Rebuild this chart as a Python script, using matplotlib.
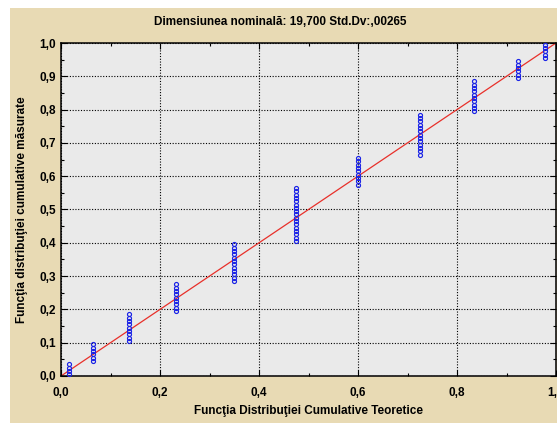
import numpy as np
import matplotlib.pyplot as plt
from matplotlib.patches import Rectangle
from matplotlib.ticker import MultipleLocator, FuncFormatter

plt.rcParams["font.family"] = ["Liberation Sans", "DejaVu Sans"]

# theoretical CDF of each measured value, and how many parts had that value
theoretical = [0.016, 0.065, 0.137, 0.232, 0.350, 0.475, 0.600, 0.725, 0.834, 0.923, 0.978]
counts = [4, 6, 9, 9, 12, 17, 9, 13, 10, 6, 5]

title = "Dimensiunea nominală: 19,700 Std.Dv:,00265"
xlabel = "Funcţia Distribuţiei Cumulative Teoretice"
ylabel = "Funcţia distribuţiei cumulative măsurate"

# empirical CDF ranks for the tied values
n = sum(counts)
xs, ys = [], []
rank = 0
for t, c in zip(theoretical, counts):
    for i in range(c):
        rank += 1
        xs.append(t)
        ys.append((rank - 0.5) / n)

fig = plt.figure(figsize=(5.57, 4.23), dpi=100)
fig.patch.set_facecolor("white")
fig.patches.append(Rectangle((10 / 557, 0), 1, 1 - 8 / 423, transform=fig.transFigure,
                             facecolor="#E8DAB4", edgecolor="none", zorder=-5))

ax = fig.add_axes([61 / 557, 1 - 376 / 423, 495 / 557, 333 / 423])
ax.set_facecolor("#EAEAEA")
ax.set_xlim(0, 1)
ax.set_ylim(0, 1)

ax.plot([0, 1], [0, 1], color="#E8302A", lw=0.9, zorder=2)
ax.plot(xs, ys, linestyle="none", marker="o", markersize=2.9, markerfacecolor="none",
        markeredgecolor="#1A22E6", markeredgewidth=0.85, zorder=3, clip_on=False)

ax.xaxis.set_major_locator(MultipleLocator(0.2))
ax.xaxis.set_minor_locator(MultipleLocator(0.1))
ax.yaxis.set_major_locator(MultipleLocator(0.1))
ax.yaxis.set_minor_locator(MultipleLocator(0.05))
fmt = FuncFormatter(lambda v, p: f"{v:.1f}".replace(".", ","))
ax.xaxis.set_major_formatter(fmt)
ax.yaxis.set_major_formatter(fmt)
ax.tick_params(which="both", direction="in", top=True, right=True, labelsize=8.5)
ax.tick_params(which="major", length=4, width=0.8)
ax.tick_params(which="minor", length=2.5, width=0.8)
ax.tick_params(axis="x", pad=8)
for lab in ax.get_xticklabels() + ax.get_yticklabels():
    lab.set_fontweight("bold")

ax.grid(True, which="major", color="black", linestyle=(0, (1, 1.5)), linewidth=0.8)
for s in ax.spines.values():
    s.set_linewidth(1.1)

fig.text(280 / 557, 1 - 22 / 423, title, ha="center", va="center",
         fontsize=8.5, fontweight="bold")
fig.text(308 / 557, 1 - 411 / 423, xlabel, ha="center", va="center",
         fontsize=8.5, fontweight="bold")
fig.text(22 / 557, 1 - 210 / 423, ylabel, ha="center", va="center",
         fontsize=8.5, fontweight="bold", rotation=90)

fig.savefig("out.png", dpi=100)
